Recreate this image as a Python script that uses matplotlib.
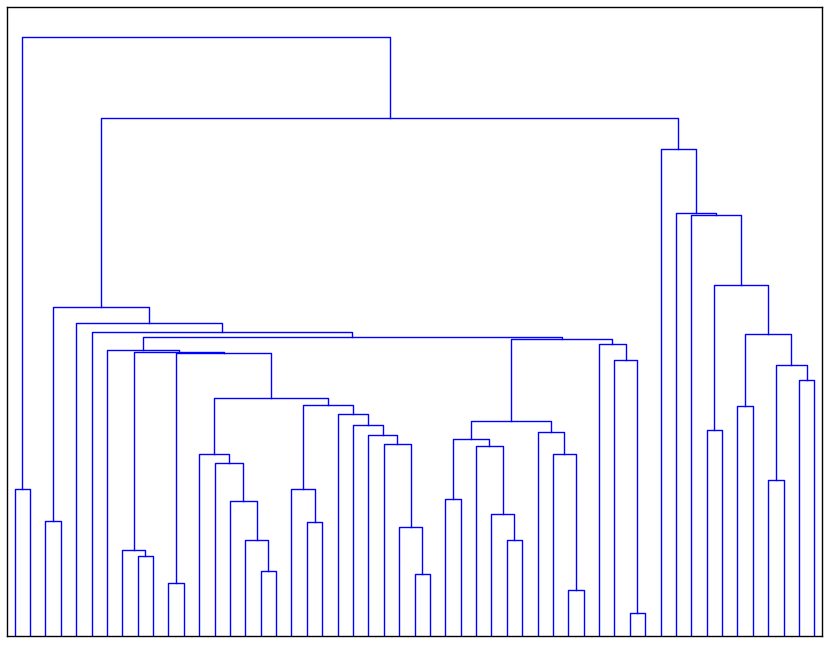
import matplotlib
matplotlib.use("Agg")
import matplotlib.pyplot as plt

# 53 leaves, numbered in the order they appear left to right
n_leaves = 53

# merges: ids 0..52 are leaves, merge k gets id 53 + k
merge_left = [0, 2, 8, 7, 10, 16, 15, 14, 13, 12,
              19, 18, 26, 25, 24, 23, 22, 21, 64, 62,
              57, 56, 6, 28, 32, 31, 30, 76, 36, 35,
              34, 80, 40, 39, 38, 84, 75, 5, 4, 54,
              45, 47, 49, 51, 95, 94, 93, 44, 43, 42,
              92, 53]
merge_right = [1, 3, 9, 55, 11, 17, 58, 59, 60, 61,
               20, 63, 27, 65, 66, 67, 68, 69, 70, 71,
               72, 73, 74, 29, 33, 77, 78, 79, 37, 81,
               82, 83, 41, 85, 86, 87, 88, 89, 90, 91,
               46, 48, 50, 52, 96, 97, 98, 99, 100, 101,
               102, 103]
merge_height = [1.47, 1.153, 0.80, 0.86, 0.533, 0.653, 0.957, 1.353, 1.727, 1.817,
                1.14, 1.47, 0.623, 1.087, 1.917, 2.01, 2.107, 2.217, 2.31, 2.375,
                2.823, 2.837, 2.855, 1.367, 0.957, 1.217, 1.893, 1.963, 0.46, 1.813,
                2.037, 2.143, 0.233, 2.753, 2.917, 2.97, 2.99, 3.035, 3.123, 3.287,
                2.053, 2.30, 1.557, 2.56, 2.71, 3.017, 3.503, 4.20, 4.227, 4.863,
                5.17, 5.983]

# position and height of every node
xpos = {i: 5 + 10 * i for i in range(n_leaves)}
ypos = {i: 0.0 for i in range(n_leaves)}
for k, (a, b, h) in enumerate(zip(merge_left, merge_right, merge_height)):
    node = n_leaves + k
    xpos[node] = (xpos[a] + xpos[b]) / 2
    ypos[node] = h

fig = plt.figure(figsize=(8.3, 6.45), dpi=100)
ax = fig.add_axes([7 / 830, 9 / 645, 815 / 830, 629 / 645])

for a, b, h in zip(merge_left, merge_right, merge_height):
    ax.plot([xpos[a], xpos[a], xpos[b], xpos[b]],
            [ypos[a], h, h, ypos[b]], color="blue", lw=1.0)

ax.set_xlim(0, 10 * n_leaves)
ax.set_ylim(0, max(merge_height) * 1.05)
ax.set_xticks([])
ax.set_yticks([])
for sp in ax.spines.values():
    sp.set_color("black")
    sp.set_linewidth(1.0)

fig.savefig("out.png", dpi=100)
